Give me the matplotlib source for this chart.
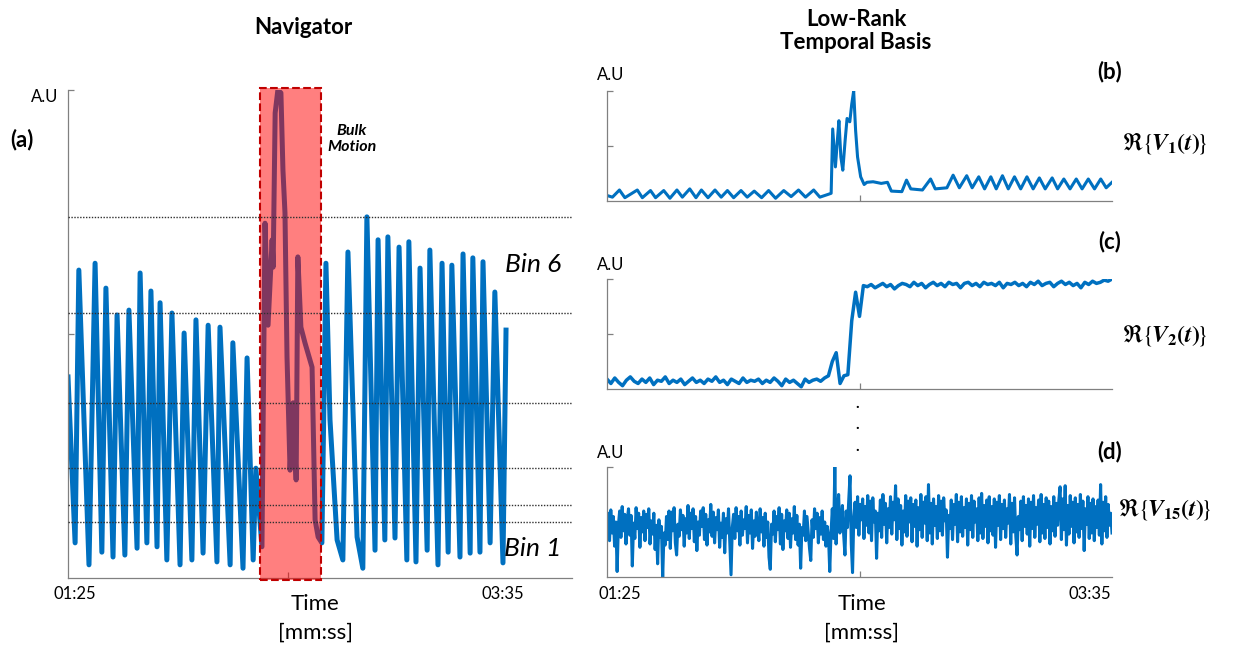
import numpy as np
import matplotlib.pyplot as plt
from matplotlib.patches import Rectangle

# ============================================================
# DATA (time in s, amplitude in A.U, 0..1)
# ============================================================

nav_t = [
    85.0, 87.1, 88.2, 91.2, 93.0, 95.0, 96.2, 98.3, 99.5, 101.8,
    103.0, 105.4, 106.3, 108.3, 109.5, 111.3, 112.2, 114.2, 115.7, 118.1,
    119.3, 121.6, 122.8, 124.9, 126.4, 129.0, 129.9, 132.9, 133.7, 136.7,
    137.9, 139.7, 140.5, 142.3,
    143.2, 144.1, 145.3, 145.6, 146.2, 147.0, 147.9, 148.5, 149.1, 149.7,
    150.6, 151.5, 152.4, 152.9, 153.8, 155.0, 157.1, 158.0, 158.9,
    160.0, 161.2, 162.4, 164.5, 166.2, 167.7, 170.4, 172.1, 173.3, 175.7,
    176.6, 178.6, 179.5, 181.6, 182.8, 185.1, 185.7, 187.8, 189.0, 191.1,
    191.9, 194.3, 195.5, 197.3, 198.4, 200.8, 201.7, 203.8, 204.6, 206.7,
    207.6, 209.7, 211.1, 213.5, 214.4,
]
nav_v = [
    0.412, 0.072, 0.631, 0.027, 0.645, 0.053, 0.594, 0.043, 0.539, 0.047,
    0.549, 0.061, 0.625, 0.072, 0.588, 0.064, 0.564, 0.037, 0.543, 0.027,
    0.502, 0.037, 0.529, 0.051, 0.518, 0.033, 0.514, 0.027, 0.482, 0.020,
    0.451, 0.037, 0.225, 0.064,
    0.727, 0.518, 0.693, 0.637, 0.953, 1.000, 0.994, 0.836, 0.748, 0.453,
    0.221, 0.359, 0.201, 0.658, 0.514, 0.482, 0.432, 0.119, 0.084,
    0.072, 0.645, 0.324, 0.078, 0.037, 0.668, 0.084, 0.020, 0.740, 0.057,
    0.693, 0.078, 0.699, 0.082, 0.678, 0.037, 0.689, 0.033, 0.635, 0.057,
    0.672, 0.027, 0.645, 0.053, 0.641, 0.043, 0.664, 0.051, 0.656, 0.053,
    0.648, 0.072, 0.586, 0.031, 0.508,
]

bin_levels = [0.740, 0.543, 0.359, 0.225, 0.150, 0.115]

bulk_start = 141.7
bulk_end = 159.7

v1_t = [
    85.0, 86.4, 88.2, 89.6, 92.8, 94.1, 96.2, 97.5, 99.6, 101.2,
    103.0, 104.4, 106.3, 107.9, 109.3, 111.0, 112.8, 114.4, 116.0, 117.6,
    119.5, 121.1, 122.9, 124.8, 126.6, 128.4, 130.5, 132.4, 134.3, 136.1,
    138.2, 139.8, 141.9, 142.7, 143.1, 143.8, 144.3, 144.7, 145.2, 145.7,
    146.3, 146.8, 147.5, 148.0, 148.5, 149.0, 149.5, 150.3, 151.2, 151.9,
    153.5, 155.6, 157.2, 158.2, 160.9, 162.1, 163.2, 166.2, 168.3, 169.5,
    172.5, 174.1, 175.7, 177.6, 179.0, 180.7, 182.2, 183.8, 185.2, 186.8,
    188.3, 189.9, 191.5, 193.1, 194.7, 196.3, 197.8, 199.6, 201.0, 202.6,
    204.2, 205.8, 207.3, 208.9, 210.5, 212.1, 213.5, 215.0,
]
v1_v = [
    0.05, 0.035, 0.10, 0.03, 0.10, 0.03, 0.095, 0.03, 0.095, 0.025,
    0.10, 0.035, 0.11, 0.03, 0.10, 0.03, 0.10, 0.035, 0.095, 0.03,
    0.095, 0.035, 0.09, 0.03, 0.095, 0.025, 0.095, 0.04, 0.10, 0.035,
    0.10, 0.035, 0.06, 0.07, 0.655, 0.31, 0.55, 0.73, 0.40, 0.28,
    0.55, 0.75, 0.72, 0.88, 1.00, 0.64, 0.40, 0.22, 0.15, 0.17,
    0.175, 0.16, 0.17, 0.09, 0.085, 0.19, 0.11, 0.10, 0.20, 0.11,
    0.12, 0.235, 0.12, 0.23, 0.12, 0.22, 0.11, 0.22, 0.11, 0.23,
    0.11, 0.22, 0.11, 0.22, 0.11, 0.21, 0.11, 0.21, 0.11, 0.20,
    0.11, 0.20, 0.11, 0.20, 0.11, 0.20, 0.12, 0.17,
]

# one sample per second, 01:25 .. 03:35
v2_v = [
    0.09, 0.05, 0.10, 0.06, 0.03, 0.08, 0.11, 0.07, 0.05, 0.09,
    0.06, 0.10, 0.04, 0.08, 0.07, 0.11, 0.05, 0.08, 0.06, 0.09,
    0.04, 0.07, 0.10, 0.06, 0.08, 0.05, 0.09, 0.07, 0.11, 0.06,
    0.08, 0.04, 0.09, 0.07, 0.05, 0.10, 0.06, 0.08, 0.07, 0.09,
    0.05, 0.08, 0.06, 0.10, 0.07, 0.03, 0.09, 0.06, 0.08, 0.05,
    0.02, 0.09, 0.06, 0.08, 0.09, 0.07, 0.10, 0.12,
    0.25, 0.33, 0.05, 0.12, 0.13, 0.62, 0.88, 0.66, 0.94,
    0.93, 0.95, 0.92, 0.94, 0.96, 0.93, 0.95, 0.91, 0.94, 0.96,
    0.95, 0.93, 0.97, 0.94, 0.96, 0.92, 0.95, 0.97, 0.94, 0.96,
    0.93, 0.97, 0.95, 0.96, 0.92, 0.96, 0.97, 0.94, 0.96, 0.93,
    0.97, 0.95, 0.96, 0.94, 0.97, 0.92, 0.96, 0.95, 0.97, 0.94,
    0.96, 0.93, 0.97, 0.95, 0.98, 0.94, 0.96, 0.97, 0.93, 0.96,
    0.98, 0.95, 0.97, 0.94, 0.96, 0.92, 0.97, 0.95, 0.98, 0.96,
    0.97, 0.99, 0.98, 1.00,
]

# 400 evenly spaced samples, 01:25 .. 03:35
v15_v = [
    0.45, 0.58, 0.33, 0.61, 0.40, 0.55, 0.28, 0.50, 0.05, 0.47,
    0.60, 0.36, 0.64, 0.42, 0.57, 0.30, 0.52, 0.62, 0.38, 0.56,
    0.10, 0.49, 0.35, 0.63, 0.44, 0.58, 0.27, 0.54, 0.41, 0.60,
    0.33, 0.57, 0.45, 0.62, 0.30, 0.51, 0.39, 0.58, 0.25, 0.47,
    0.12, 0.52, 0.36, 0.46, -0.01, 0.40, 0.29, 0.55, 0.34, 0.60,
    0.26, 0.59, 0.42, 0.63, 0.31, 0.20, 0.48, 0.37, 0.61, 0.43,
    0.56, 0.28, 0.53, 0.40, 0.65, 0.35, 0.58, 0.44, 0.62, 0.32,
    0.55, 0.24, 0.50, 0.38, 0.60, 0.46, 0.63, 0.34, 0.57, 0.29,
    0.52, 0.41, 0.66, 0.37, 0.59, 0.31, 0.54, 0.43, 0.61, 0.27,
    0.49, 0.36, 0.58, 0.22, 0.53, 0.40, 0.62, 0.33, 0.02, 0.45,
    0.57, 0.35, 0.63, 0.42, 0.55, 0.29, 0.60, 0.38, 0.52, 0.44,
    0.64, 0.31, 0.56, 0.40, 0.61, 0.26, 0.51, 0.37, 0.59, 0.45,
    0.33, 0.62, 0.41, 0.54, 0.28, 0.58, 0.36, 0.50, 0.18, 0.07,
    0.48, 0.39, 0.60, 0.32, 0.55, 0.43, 0.63, 0.30, 0.57, 0.25,
    0.51, 0.42, 0.61, 0.35, 0.58, 0.27, 0.53, 0.40, 0.64, 0.34,
    0.56, 0.29, 0.48, 0.08, 0.45, 0.38, 0.60, 0.33, 0.55, 0.41,
    0.26, 0.15, 0.52, 0.36, 0.62, 0.44, 0.58, 0.31, 0.54, 0.39,
    0.60, 0.34, 0.50, 0.28, 0.46, 0.37, 0.05,
    0.40, 0.62, 0.35, 1.00, 0.30, 0.55, 0.75, 0.40, 0.50, 0.65,
    0.38, 0.20, 0.60, 0.45, 0.70, 0.92, 0.30, 0.04, 0.55,
    0.68, 0.45, 0.73, 0.38, 0.66, 0.52, 0.71, 0.35,
    0.64, 0.47, 0.74, 0.40, 0.69, 0.33, 0.72, 0.50, 0.60, 0.17,
    0.58, 0.42, 0.70, 0.36, 0.75, 0.48, 0.67, 0.31, 0.62, 0.45,
    0.73, 0.39, 0.68, 0.52, 0.83, 0.34, 0.71, 0.44, 0.65, 0.29,
    0.60, 0.41, 0.74, 0.37, 0.69, 0.50, 0.72, 0.32, 0.66, 0.46,
    0.70, 0.28, 0.63, 0.43, 0.75, 0.36, 0.68, 0.49, 0.73, 0.33,
    0.84, 0.40, 0.67, 0.30, 0.71, 0.47, 0.64, 0.35, 0.74, 0.42,
    0.69, 0.38, 0.72, 0.51, 0.61, 0.18, 0.56, 0.44, 0.70, 0.34,
    0.66, 0.48, 0.75, 0.32, 0.68, 0.41, 0.73, 0.37, 0.63, 0.45,
    0.71, 0.29, 0.67, 0.43, 0.74, 0.36, 0.69, 0.50, 0.62, 0.33,
    0.72, 0.40, 0.76, 0.35, 0.65, 0.46, 0.70, 0.31, 0.73, 0.42,
    0.64, 0.38, 0.71, 0.27, 0.68, 0.47, 0.74, 0.34, 0.66, 0.44,
    0.70, 0.36, 0.62, 0.49, 0.75, 0.30, 0.67, 0.41, 0.72, 0.37,
    0.20, 0.55, 0.43, 0.69, 0.33, 0.73, 0.46, 0.65, 0.39, 0.71,
    0.28, 0.68, 0.44, 0.74, 0.36, 0.63, 0.48, 0.70, 0.32, 0.75,
    0.40, 0.66, 0.35, 0.72, 0.45, 0.69, 0.30, 0.64, 0.42, 0.73,
    0.37, 0.67, 0.47, 0.70, 0.82, 0.34, 0.71, 0.43, 0.83, 0.29,
    0.65, 0.39, 0.74, 0.46, 0.68, 0.31, 0.72, 0.41, 0.66, 0.36,
    0.75, 0.44, 0.69, 0.24, 0.62, 0.48, 0.73, 0.35, 0.67, 0.40,
    0.71, 0.33, 0.64, 0.45, 0.70, 0.38, 0.84, 0.30, 0.68, 0.42,
    0.73, 0.36, 0.66, 0.47, 0.58, 0.40,
]

t_start = 85.0
t_end = 215.0

# ============================================================
# STYLE
# ============================================================

plt.rcParams['font.family'] = ['Lato', 'DejaVu Sans']
plt.rcParams['mathtext.fontset'] = 'stix'

BLUE = '#0070C0'
GREY = '#808080'

W, H = 1236, 648


def px(x, y):
    return x / W, 1 - y / H


def style_axis(ax):

    for s in ['top', 'right']:
        ax.spines[s].set_visible(False)

    for s in ['left', 'bottom']:
        ax.spines[s].set_color(GREY)
        ax.spines[s].set_linewidth(0.9)

    ax.set_yticks([0.5, 1.0])
    ax.set_xticks([150])

    ax.tick_params(
        direction='in',
        length=4,
        width=0.9,
        color=GREY,
        labelleft=False,
        labelbottom=False
    )


fig = plt.figure(figsize=(W / 100, H / 100), dpi=100)

# ============================================================
# NAVIGATOR
# ============================================================

ax = fig.add_axes([68 / W, 70 / H, 504 / W, 488 / H])

ax.plot(nav_t, nav_v, color=BLUE, lw=3.6,
        solid_joinstyle='round', zorder=2)

for level in bin_levels:
    ax.axhline(level, color='#303030', ls=(0, (1, 1.1)),
               lw=1.0, zorder=4)

ax.add_patch(Rectangle(
    (bulk_start, -0.004),
    bulk_end - bulk_start,
    1.008,
    facecolor=(1, 0, 0, 0.5),
    edgecolor='#C00000',
    ls='--',
    lw=1.5,
    clip_on=False,
    zorder=3
))

ax.set_xlim(t_start, t_start + 504 / 3.385)
ax.set_ylim(0, 1)
style_axis(ax)

# ============================================================
# TEMPORAL BASIS
# ============================================================

panels = [
    (201, v1_t, v1_v, 2.2),
    (389, np.linspace(t_start, t_end, len(v2_v)), v2_v, 2.5),
    (577, np.linspace(t_start, t_end, len(v15_v)), v15_v, 2.2),
]

for bottom, t, v, lw in panels:

    a = fig.add_axes([607 / W, (H - bottom) / H, 505 / W, 110 / H])

    a.plot(t, v, color=BLUE, lw=lw, solid_joinstyle='round')

    a.set_xlim(t_start, t_end)
    a.set_ylim(0, 1)
    style_axis(a)

# ============================================================
# TEXT
# ============================================================

fig.text(*px(303, 27), 'Navigator', ha='center', va='center',
         fontsize=16, fontweight='bold')
fig.text(*px(856, 31), 'Low-Rank\nTemporal Basis', ha='center',
         va='center', fontsize=16, fontweight='bold', linespacing=1.1)

fig.text(*px(22, 140), '(a)', ha='center', va='center',
         fontsize=16, fontweight='bold')
fig.text(*px(1110, 72), '(b)', ha='center', va='center',
         fontsize=16, fontweight='bold')
fig.text(*px(1110, 242), '(c)', ha='center', va='center',
         fontsize=16, fontweight='bold')
fig.text(*px(1110, 452), '(d)', ha='center', va='center',
         fontsize=16, fontweight='bold')

for x, y in [(45, 97), (611, 75), (611, 265), (611, 453)]:
    fig.text(*px(x, y), 'A.U', ha='center', va='center', fontsize=12)

fig.text(*px(352, 139), 'Bulk\nMotion', ha='center', va='center',
         fontsize=11.5, fontweight='bold', fontstyle='italic',
         linespacing=1.25)

fig.text(*px(533, 264), 'Bin 6', ha='center', va='center',
         fontsize=19, fontstyle='italic')
fig.text(*px(533, 548), 'Bin 1', ha='center', va='center',
         fontsize=19, fontstyle='italic')

for x in [315, 862]:
    fig.text(*px(x, 604), 'Time', ha='center', va='center', fontsize=16)
    fig.text(*px(x, 633), '[mm:ss]', ha='center', va='center', fontsize=16)

for x, lab in [(75, '01:25'), (503, '03:35'), (620, '01:25'), (1090, '03:35')]:
    fig.text(*px(x, 594), lab, ha='center', va='center', fontsize=12)

for y, sub in [(143, '1'), (335, '2'), (510, '15')]:
    fig.text(
        *px(1165, y),
        r'$\Re\{\!\mathbfit{V}_{\mathbf{' + sub + r'}}\mathbf{(}'
        r'\mathbfit{t}\mathbf{)}\!\}$',
        ha='center', va='center', fontsize=17
    )

for y in [404, 425, 447]:
    fig.text(*px(857, y), '.', ha='center', va='center', fontsize=11,
             fontweight='bold')

fig.savefig('out.png', dpi=100)
